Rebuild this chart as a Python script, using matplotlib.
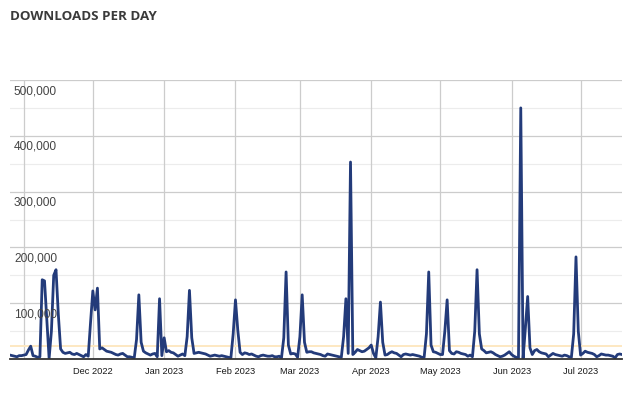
import numpy as np
import pandas as pd
import matplotlib
matplotlib.use("Agg")
import matplotlib.pyplot as plt
import matplotlib.transforms as mtransforms

# daily downloads, in thousands, starting 2022-10-26
start_date = "2022-10-26"
oct_k = [7, 6, 5, 4, 6, 6]
nov_k = [7, 8, 16, 23, 6, 5, 3, 4, 142, 140, 72, 1, 50, 150, 160, 80, 18, 12, 10, 11,
         12, 9, 8, 10, 8, 6, 4, 8, 5, 65]
dec_k = [122, 88, 127, 18, 20, 17, 14, 13, 12, 10, 8, 7, 9, 10, 7, 4, 4, 3, 2, 35,
         115, 30, 14, 11, 9, 7, 9, 10, 4, 108, 6]
jan_k = [38, 13, 15, 12, 11, 8, 5, 7, 9, 6, 40, 123, 38, 10, 11, 12, 11, 10, 9, 7,
         5, 6, 7, 6, 5, 6, 5, 4, 3, 2, 45]
feb_k = [106, 52, 12, 8, 11, 10, 8, 9, 7, 5, 4, 6, 7, 6, 5, 5, 6, 4, 4, 5,
         2, 38, 156, 25, 9, 10, 9, 3]
mar_k = [40, 115, 30, 12, 13, 13, 11, 10, 9, 8, 6, 5, 9, 8, 7, 6, 5, 4, 3, 40,
         108, 10, 353, 8, 12, 17, 15, 13, 14, 17, 20]
apr_k = [25, 10, 2, 40, 102, 30, 7, 8, 11, 13, 11, 10, 7, 4, 8, 9, 8, 7, 8, 7,
         6, 5, 3, 3, 45, 156, 25, 13, 12, 10]
may_k = [8, 8, 50, 106, 15, 10, 9, 13, 12, 10, 9, 8, 5, 7, 4, 50, 160, 45, 18, 15,
         11, 12, 13, 11, 8, 6, 4, 5, 7, 10, 13]
jun_k = [8, 5, 3, 1, 450, 1, 55, 112, 20, 8, 15, 17, 13, 11, 10, 9, 4, 7, 10, 8,
         7, 6, 5, 7, 6, 4, 3, 45, 183, 50]
jul_k = [7, 10, 14, 12, 11, 10, 8, 4, 6, 9, 8, 7, 7, 6, 5, 2, 8, 9, 8]

average_k = 24
y_ticks = [100000, 200000, 300000, 400000, 500000]
y_minor = [50000, 150000, 250000, 350000, 450000]
month_starts = ["2022-11-01", "2022-12-01", "2023-01-01", "2023-02-01", "2023-03-01",
                "2023-04-01", "2023-05-01", "2023-06-01", "2023-07-01"]
month_labels = ["", "Dec 2022", "Jan 2023", "Feb 2023", "Mar 2023",
                "Apr 2023", "May 2023", "Jun 2023", "Jul 2023"]


def main():
    values = np.array(oct_k + nov_k + dec_k + jan_k + feb_k + mar_k + apr_k
                      + may_k + jun_k + jul_k) * 1000
    dates = pd.date_range(start_date, periods=len(values), freq="D")
    ticks = pd.to_datetime(month_starts)

    fig = plt.figure(figsize=(6.28, 3.95), dpi=100)
    ax = fig.add_axes([10 / 628, 1 - 359 / 395, 612 / 628, 279 / 395])

    ax.set_ylim(0, 500000)
    ax.set_xlim(dates[0], dates[-1])

    for v in y_minor:
        ax.axhline(v, color="#ececec", lw=0.8, zorder=1)
    for v in y_ticks:
        ax.axhline(v, color="#cccccc", lw=0.9, zorder=1)
    for t in ticks:
        ax.axvline(t, color="#cccccc", lw=0.9, zorder=1)

    ax.axhline(average_k * 1000, color="#fde8c2", lw=1.4, zorder=2)
    ax.plot(dates, values, color="#233b7a", lw=2.0, zorder=3,
            solid_joinstyle="round")

    # y labels sit inside the plot, just under each gridline
    lab_tr = mtransforms.offset_copy(ax.get_yaxis_transform(), fig=fig, x=0, y=-5, units="dots")
    for v in y_ticks:
        ax.text(4 / 612, v, f"{v:,}", transform=lab_tr, ha="left", va="top",
                fontsize=8.6, color="#444444", family="Liberation Sans", zorder=4)

    ax.set_yticks([])
    ax.set_xticks(ticks)
    ax.set_xticklabels(month_labels, fontsize=6.7, color="#1a1a1a", family="Liberation Sans")
    ax.tick_params(axis="x", length=0, pad=6)

    for side in ["top", "right", "left"]:
        ax.spines[side].set_visible(False)
    ax.spines["bottom"].set_color("#333333")
    ax.spines["bottom"].set_linewidth(1.3)
    ax.spines["bottom"].set_zorder(5)

    fig.text(10 / 628, 1 - 10 / 395, "DOWNLOADS PER DAY", ha="left", va="top",
             fontsize=9.6, fontweight="bold", color="#3a3a3a", family="Open Sans")

    fig.savefig("out.png", dpi=100)
    plt.close(fig)


if __name__ == "__main__":
    main()
